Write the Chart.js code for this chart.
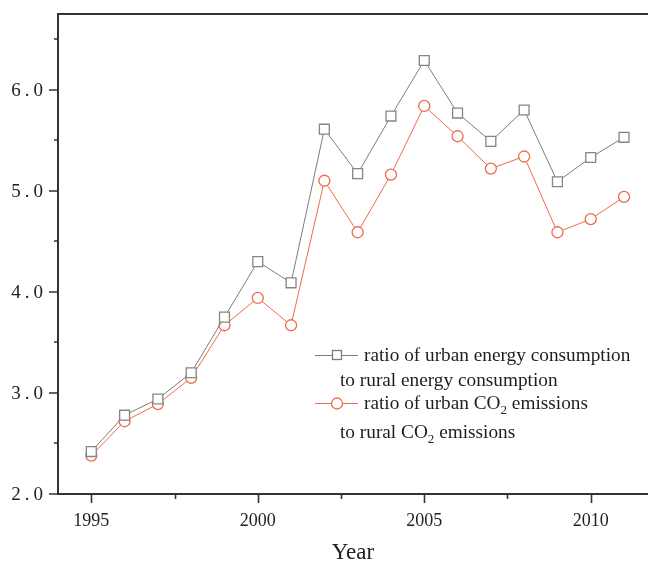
<!DOCTYPE html>
<html>
<head>
<meta charset="utf-8">
<script src="https://cdn.jsdelivr.net/npm/chart.js@4/dist/chart.umd.min.js"></script>
<style>
  html, body { margin: 0; padding: 0; background: #fff; overflow: hidden; }
  #wrap { width: 648px; height: 562px; }
</style>
</head>
<body>
<div id="wrap"><canvas id="c" width="648" height="562"></canvas></div>
<script>
// Urban/rural ratios, 1995-2011
const years = [1995, 1996, 1997, 1998, 1999, 2000, 2001, 2002, 2003, 2004, 2005, 2006, 2007, 2008, 2009, 2010, 2011];
const energyRatio = [2.42, 2.78, 2.94, 3.20, 3.75, 4.30, 4.09, 5.61, 5.17, 5.74, 6.29, 5.77, 5.49, 5.80, 5.09, 5.33, 5.53];
const co2Ratio = [2.38, 2.72, 2.89, 3.15, 3.67, 3.94, 3.67, 5.10, 4.59, 5.16, 5.84, 5.54, 5.22, 5.34, 4.59, 4.72, 4.94];

const xMajorTicks = [1995, 2000, 2005, 2010];
const xMinorTicks = [1997.5, 2002.5, 2007.5];
const yMajorTicks = [2, 3, 4, 5, 6];
const yMinorTicks = [2.5, 3.5, 4.5, 5.5, 6.5];
const yTickLabels = ['2.0', '3.0', '4.0', '5.0', '6.0'];

const GREY = '#7d7d7d';
const ORANGE = '#ef6a4b';
const AXIS = '#333333';

// Axis lines, outward tick marks and y-axis labels
const frame = {
  id: 'frame',
  beforeDatasetsDraw(chart) {
    const { ctx, chartArea: a, scales: { x, y } } = chart;
    ctx.save();
    ctx.strokeStyle = AXIS;
    ctx.lineWidth = 2;
    ctx.beginPath();
    ctx.moveTo(a.left, a.top); ctx.lineTo(a.left, a.bottom);
    ctx.moveTo(a.left - 1, a.bottom); ctx.lineTo(a.right, a.bottom);
    ctx.moveTo(a.left - 1, a.top); ctx.lineTo(a.right, a.top);
    ctx.stroke();

    ctx.lineWidth = 1.6;
    ctx.beginPath();
    xMajorTicks.forEach(v => { const p = Math.round(x.getPixelForValue(v)) + 0.5; ctx.moveTo(p, a.bottom); ctx.lineTo(p, a.bottom + 9); });
    xMinorTicks.forEach(v => { const p = Math.round(x.getPixelForValue(v)) + 0.5; ctx.moveTo(p, a.bottom); ctx.lineTo(p, a.bottom + 5); });
    yMajorTicks.forEach(v => { const p = Math.round(y.getPixelForValue(v)); ctx.moveTo(a.left, p); ctx.lineTo(a.left - 9, p); });
    yMinorTicks.forEach(v => { const p = Math.round(y.getPixelForValue(v)); ctx.moveTo(a.left, p); ctx.lineTo(a.left - 4, p); });
    ctx.stroke();

    ctx.fillStyle = '#222';
    ctx.font = '19px "Liberation Serif"';
    ctx.textAlign = 'right';
    ctx.textBaseline = 'middle';
    if ('letterSpacing' in ctx) ctx.letterSpacing = '4px';
    yMajorTicks.forEach((v, i) => {
      ctx.fillText(yTickLabels[i], a.left - 11, y.getPixelForValue(v) + 1);
    });
    ctx.restore();
  }
};

// Two-line legend entries with a CO2 subscript
const legendBox = {
  id: 'legendBox',
  afterDraw(chart) {
    const { ctx } = chart;
    const x0 = 315, x1 = 358, xm = 337, tx = 364, tx2 = 340;
    const font = '19.3px "Liberation Serif"';
    const sub = '13px "Liberation Serif"';
    ctx.save();
    ctx.textBaseline = 'alphabetic';
    ctx.fillStyle = '#1e1e1e';

    // entry 1: squares
    let cy = 355;
    ctx.strokeStyle = GREY; ctx.lineWidth = 1;
    ctx.beginPath(); ctx.moveTo(x0, cy + 0.5); ctx.lineTo(xm - 5, cy + 0.5); ctx.moveTo(xm + 5, cy + 0.5); ctx.lineTo(x1, cy + 0.5); ctx.stroke();
    ctx.lineWidth = 1.3;
    ctx.strokeRect(xm - 4.5, cy - 4.5, 9, 9);
    ctx.font = font;
    ctx.fillText('ratio of urban energy consumption', tx, cy + 6);
    ctx.fillText('to rural energy consumption', tx2, cy + 31);

    // entry 2: circles
    cy = 403;
    ctx.strokeStyle = ORANGE; ctx.lineWidth = 1;
    ctx.beginPath(); ctx.moveTo(x0, cy + 0.5); ctx.lineTo(xm - 6, cy + 0.5); ctx.moveTo(xm + 6, cy + 0.5); ctx.lineTo(x1, cy + 0.5); ctx.stroke();
    ctx.lineWidth = 1.3;
    ctx.beginPath(); ctx.arc(xm, cy + 0.5, 5.5, 0, Math.PI * 2); ctx.stroke();

    const drawCO2 = (before, after, x, base) => {
      ctx.font = font;
      ctx.fillText(before, x, base);
      x += ctx.measureText(before).width;
      ctx.font = sub;
      ctx.fillText('2', x, base + 5);
      x += ctx.measureText('2').width;
      ctx.font = font;
      ctx.fillText(after, x, base);
    };
    drawCO2('ratio of urban CO', ' emissions', tx, cy + 6);
    drawCO2('to rural CO', ' emissions', tx2, cy + 35);
    ctx.restore();
  }
};

const toPoints = vals => years.map((yr, i) => ({ x: yr, y: vals[i] }));

new Chart(document.getElementById('c'), {
  type: 'line',
  data: {
    datasets: [
      {
        label: 'ratio of urban energy consumption to rural energy consumption',
        data: toPoints(energyRatio),
        borderColor: GREY,
        borderWidth: 1,
        pointStyle: 'rect',
        pointRadius: 7,
        pointBorderWidth: 1.3,
        pointBorderColor: '#858585',
        pointBackgroundColor: '#ffffff',
        tension: 0
      },
      {
        label: 'ratio of urban CO2 emissions to rural CO2 emissions',
        data: toPoints(co2Ratio),
        borderColor: ORANGE,
        borderWidth: 1,
        pointStyle: 'circle',
        pointRadius: 5.5,
        pointBorderWidth: 1.3,
        pointBorderColor: ORANGE,
        pointBackgroundColor: '#ffffff',
        tension: 0
      }
    ]
  },
  options: {
    responsive: false,
    animation: false,
    devicePixelRatio: 1,
    layout: { autoPadding: false, padding: { top: 14, right: 0, left: 0, bottom: 0 } },
    plugins: { legend: { display: false }, tooltip: { enabled: false } },
    scales: {
      x: {
        type: 'linear',
        min: 1994,
        max: 2011.72,
        grid: { display: false, drawTicks: false },
        border: { display: false },
        afterBuildTicks: s => { s.ticks = xMajorTicks.map(v => ({ value: v })); },
        afterFit: s => { s.height = 68; s.paddingLeft = 0; s.paddingRight = 0; },
        ticks: {
          color: '#222',
          padding: 16,
          maxRotation: 0,
          autoSkip: false,
          font: { family: 'Liberation Serif', size: 18 },
          callback: v => String(v)
        },
        title: {
          display: true,
          text: 'Year',
          color: '#222',
          font: { family: 'Liberation Serif', size: 23 },
          padding: { top: 0, bottom: -5 }
        }
      },
      y: {
        type: 'linear',
        min: 2,
        max: 6.75,
        grid: { display: false, drawTicks: false },
        border: { display: false },
        afterFit: s => { s.width = 58; },
        ticks: { display: false }
      }
    }
  },
  plugins: [frame, legendBox]
});
</script>
</body>
</html>
